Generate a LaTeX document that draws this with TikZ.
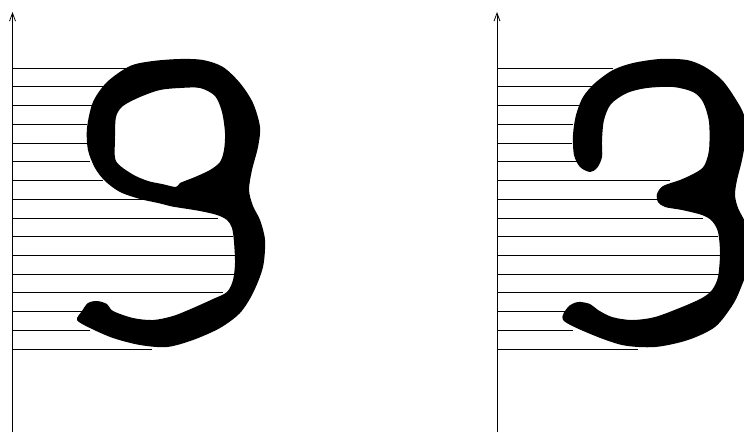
\documentclass[tikz,border=0pt]{standalone}
\usetikzlibrary{arrows.meta}
\begin{document}
\begin{tikzpicture}[x=1pt,y=-1pt,
  axisline/.style={line width=0.8pt,-{Straight Barb[length=8pt,width=6pt,line width=0.8pt]}},
  rowline/.style={line width=0.8pt},
  glyph/.style={fill=black,even odd rule}]
\useasboundingbox (0,0) rectangle (744,432);
\begin{scope}
\clip (0,0) rectangle (744,432);
% axes
\coordinate (la0) at (12.5,432);
\coordinate (la1) at (12.5,12);
\coordinate (ra0) at (497,432);
\coordinate (ra1) at (497,12);
\draw[axisline] (la0) -- (la1);
\draw[axisline] (ra0) -- (ra1);
% row lines
\foreach \y/\l/\r [count=\i] in {68/127/613, 86.7/105/592, 105.5/92/580, 124.2/87/573,
  143/87/572, 161.7/90/577, 180.4/103/670, 199.2/147/657, 217.9/218/703,
  236.6/233/718, 255.4/236/721, 274.1/235/719, 292.8/223/710, 311.6/82/567,
  330.3/90/573, 349/152/638}{
  \draw[rowline] (12.5,\y) -- (\l,\y);
  \draw[rowline] (497,\y) -- (\r,\y);
}
% left glyph (g)
\fill[glyph] plot[smooth cycle, tension=0.5] coordinates {
 (175,207) (200,211) (217,215) (227,220) (232,228) (234,242) (235,263) (233,280)
 (227,292) (213,299) (193,308) (173,316) (153,320) (133,318) (113,311) (107,304)
 (97,301) (88,303) (82,311) (77,320) (90,328) (113,338) (140,345) (167,347)
 (193,340) (220,328) (240,313) (253,293) (263,267) (265,240) (260,220) (253,206)
 (249,190) (252,170) (258,147) (260,127) (253,103) (240,83) (223,67) (203,60)
 (180,59) (153,61) (130,66) (107,82) (93,102) (87,128) (88,150) (95,168)
 (105,181) (120,192) (140,199) (158,203) (170,206)}
 plot[smooth cycle, tension=0.5] coordinates {
 (116,117) (123,106) (140,97) (160,90) (180,88) (200,88) (215,96) (222,112)
 (225,133) (224,150) (220,162) (210,170) (195,177) (180,183) (176,187)
 (162,184) (148,181) (132,174) (116,161) (115,140)};
% right glyph (3)
\fill[glyph] plot[smooth cycle, tension=0.5] coordinates {
 (580,167) (574,155) (573,135) (576,115) (583,97) (595,83) (613,70) (633,63)
 (660,59) (687,60) (705,67) (722,80) (735,98) (744,115) (746,135) (742,160)
 (737,180) (735,195) (738,208) (745,222) (750,240) (748,267) (740,290)
 (732,306) (715,327) (688,340) (655,347) (622,345) (588,333) (563,320)
 (568,307) (578,302) (590,304) (598,310) (612,317) (632,320) (655,317)
 (682,307) (702,298) (712,290) (718,277) (720,253) (718,232) (712,221)
 (702,215) (682,210) (665,207) (658,202) (657,194) (663,186) (680,180)
 (695,173) (704,166) (709,150) (709,122) (703,102) (693,92) (673,87)
 (647,88) (627,93) (611,104) (604,120) (602,140) (602,157) (597,168) (590,172)};
\end{scope}
\end{tikzpicture}
\end{document}
